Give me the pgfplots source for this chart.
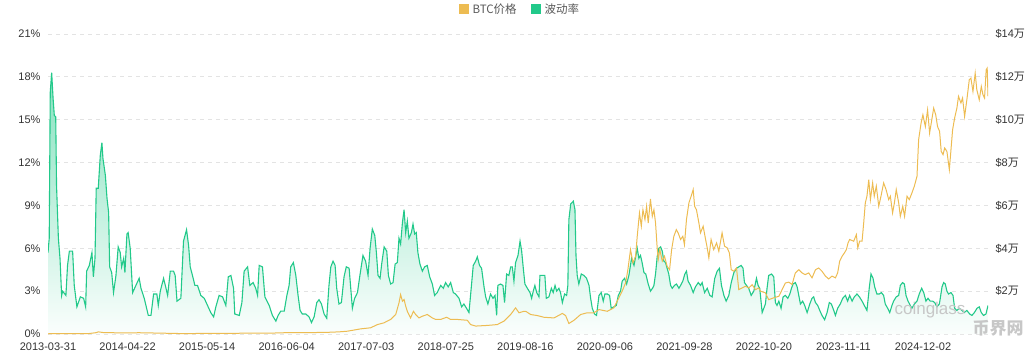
\documentclass[border=0pt]{standalone}
\usepackage{pgfplots}
\pgfplotsset{compat=1.18}
\usepackage{pgfplotstable}
\usepackage{fontspec}
\setmainfont{Liberation Sans}
\newfontfamily\cjk{Noto Sans CJK SC}
\definecolor{volgreen}{HTML}{22C98A}
\definecolor{btcgold}{HTML}{EDBC52}
\definecolor{gridgray}{HTML}{E3E3E3}
\definecolor{ticktext}{HTML}{333333}

\pgfplotstableread{
day vol
0 5.7
6 6.7
11 16.9
18 18.3
25 16.5
31 15.3
38 15.2
42 10.4
51 6.7
59 5.3
67 2.7
72 3.0
88 2.7
96 4.8
105 5.8
121 5.8
129 3.4
142 1.9
159 2.6
175 2.5
185 1.9
190 4.4
203 4.8
216 5.7
223 4.0
231 5.3
237 10.2
247 10.2
257 12.5
265 13.4
270 12.3
282 11.1
290 9.5
298 8.5
303 4.7
313 4.3
322 2.9
334 4.1
345 6.1
355 5.7
362 4.7
372 5.3
378 4.3
388 7.0
394 7.1
404 6.0
416 2.9
432 3.4
448 3.9
457 3.2
473 2.5
493 1.3
506 1.3
519 2.8
535 2.8
542 2.0
552 3.0
568 3.9
580 3.2
588 2.7
601 4.4
617 4.4
625 4.1
634 2.3
653 2.5
666 6.5
681 7.3
691 6.2
699 4.7
710 4.1
722 3.4
735 3.4
751 2.7
768 2.5
784 2.0
800 1.5
814 1.2
825 1.9
841 2.7
858 2.6
874 2.0
886 4.0
899 4.1
912 3.2
918 1.4
940 1.3
953 2.2
964 4.4
981 4.7
992 3.4
1008 3.6
1021 3.2
1030 2.7
1038 4.8
1054 4.7
1066 2.6
1087 2.0
1103 1.3
1120 0.9
1131 1.3
1144 1.6
1161 1.6
1174 2.7
1185 3.4
1193 4.7
1206 5.0
1218 4.1
1229 2.7
1239 1.65
1250 1.4
1267 1.4
1283 1.2
1295 0.8
1308 1.2
1321 2.2
1332 2.4
1344 2.1
1357 1.4
1370 1.1
1381 3.4
1390 4.7
1401 5.1
1411 4.8
1419 3.2
1430 2.1
1442 2.2
1455 4.0
1466 4.7
1480 4.6
1488 3.2
1496 1.8
1507 2.5
1521 2.9
1534 4.2
1548 5.5
1561 5.1
1573 4.1
1583 6.0
1594 7.35
1606 6.9
1614 5.7
1622 4.1
1632 3.9
1640 4.9
1652 6.1
1665 5.8
1673 4.1
1684 3.5
1696 3.6
1706 4.9
1717 5.0
1725 6.7
1733 6.3
1742 7.8
1750 8.7
1758 7.1
1766 7.9
1774 6.7
1786 7.1
1794 7.7
1802 7.0
1810 7.1
1818 5.7
1828 4.9
1840 4.4
1851 4.7
1864 4.8
1876 4.0
1889 3.5
1900 2.7
1913 2.9
1930 3.4
1943 3.2
1954 3.6
1967 3.3
1979 3.6
1992 2.9
2003 2.8
2020 2.5
2033 1.9
2044 2.1
2057 1.8
2069 1.5
2080 3.2
2090 4.8
2102 5.1
2110 5.4
2121 4.8
2131 4.6
2143 3.3
2151 2.6
2162 2.1
2175 2.8
2187 2.5
2197 2.7
2205 1.3
2211 3.4
2224 3.5
2236 3.4
2244 2.2
2254 4.2
2265 4.1
2274 4.7
2282 4.7
2290 3.7
2298 5.0
2310 5.5
2320 6.5
2328 5.8
2336 4.6
2344 3.5
2356 3.2
2369 2.9
2377 2.5
2385 3.0
2393 3.4
2402 2.9
2413 2.6
2418 4.1
2429 4.1
2442 4.1
2449 2.5
2462 2.6
2474 3.2
2483 2.9
2492 3.4
2500 3.0
2511 3.2
2519 2.9
2528 2.2
2539 2.8
2549 2.7
2555 3.4
2560 8.0
2569 9.1
2582 9.3
2590 8.7
2595 5.5
2601 4.1
2609 3.5
2621 4.2
2634 4.1
2647 3.9
2659 3.4
2667 2.5
2675 1.8
2686 1.4
2696 1.3
2708 2.7
2719 2.9
2729 2.3
2737 2.8
2749 2.8
2760 2.7
2768 1.8
2781 1.9
2793 2.0
2803 2.7
2814 3.0
2822 3.7
2834 3.9
2844 3.5
2855 4.1
2868 5.3
2880 4.8
2888 5.4
2896 6.0
2904 5.3
2912 5.5
2920 5.0
2929 4.3
2938 4.2
2950 3.5
2961 3.0
2971 3.2
2978 3.4
2986 4.2
2994 5.4
3002 6.0
3011 6.1
3019 5.8
3027 5.1
3035 5.0
3043 4.6
3051 4.2
3060 3.4
3068 3.2
3079 3.4
3089 3.5
3101 3.2
3109 3.4
3120 3.7
3130 4.2
3138 4.4
3146 3.7
3158 3.4
3171 2.9
3182 3.3
3196 3.6
3207 3.4
3215 3.6
3227 2.9
3240 3.2
3253 2.7
3264 2.6
3277 3.9
3289 4.4
3300 4.6
3310 3.4
3322 2.7
3333 2.3
3346 2.7
3358 3.6
3371 4.3
3384 4.6
3395 4.7
3407 4.8
3416 4.6
3423 3.6
3433 3.4
3444 3.2
3456 2.7
3469 3.0
3482 3.9
3490 3.4
3498 3.2
3510 1.5
3518 1.8
3526 2.1
3534 3.2
3542 4.1
3556 4.2
3567 4.0
3575 2.2
3583 2.0
3592 2.3
3603 1.8
3613 2.6
3624 2.7
3636 2.5
3646 2.8
3654 3.2
3662 3.5
3673 3.6
3682 3.3
3690 2.7
3698 2.1
3709 2.3
3719 2.0
3731 1.5
3744 2.1
3755 2.5
3763 2.6
3772 2.2
3783 2.0
3793 1.65
3804 1.3
3817 1.0
3829 1.5
3840 2.2
3850 2.1
3862 1.65
3870 1.3
3881 1.8
3894 2.1
3906 2.5
3919 2.7
3930 2.3
3940 2.7
3952 2.3
3963 2.6
3976 2.8
3988 2.6
4001 2.3
4012 2.0
4025 1.65
4037 3.3
4045 4.2
4055 3.9
4063 3.3
4074 2.8
4086 2.8
4096 2.9
4107 2.7
4115 2.1
4127 1.8
4137 1.5
4148 2.0
4156 2.3
4169 2.6
4181 2.7
4189 3.4
4200 3.6
4209 3.5
4217 2.7
4227 2.3
4238 2.0
4246 1.8
4258 2.1
4271 2.3
4282 2.8
4294 3.2
4304 2.9
4315 2.3
4325 2.5
4336 2.3
4348 2.3
4358 2.2
4369 1.9
4381 2.1
4394 3.3
4402 3.6
4410 3.5
4418 3.0
4426 2.8
4438 2.9
4448 2.7
4456 1.8
4467 1.65
4479 1.8
4492 1.65
4503 1.5
4516 1.65
4530 1.4
4541 1.3
4553 1.5
4566 1.8
4577 1.9
4587 1.5
4598 1.3
4610 1.4
4620 2.0
}\voldata

\pgfplotstableread{
day price
0 0.01
15 0.02
100 0.012
200 0.02
235 0.06
248 0.1
270 0.07
310 0.06
405 0.05
445 0.06
555 0.04
655 0.02
760 0.025
910 0.03
970 0.04
1010 0.04
1110 0.045
1200 0.07
1260 0.06
1380 0.08
1430 0.1
1471 0.13
1537 0.24
1586 0.29
1619 0.44
1651 0.52
1684 0.68
1709 0.91
1725 1.45
1733 1.84
1742 1.53
1750 1.61
1758 1.3
1766 1.06
1782 0.75
1796 1.06
1807 0.91
1823 0.75
1840 0.83
1864 0.91
1889 0.75
1905 0.68
1930 0.68
1959 0.78
1979 0.68
2012 0.68
2061 0.64
2077 0.44
2102 0.37
2159 0.40
2208 0.44
2241 0.6
2274 0.91
2298 1.22
2315 0.99
2339 1.06
2348 1.06
2372 0.91
2405 0.86
2438 0.78
2487 0.75
2528 0.96
2544 0.86
2560 0.49
2585 0.64
2618 0.91
2650 0.99
2683 0.99
2708 1.14
2749 1.06
2781 1.22
2806 1.69
2822 2.0
2839 2.39
2850 3.0
2863 3.94
2875 3.32
2888 3.63
2896 4.56
2907 5.65
2916 5.03
2924 5.8
2934 5.34
2942 5.96
2950 5.18
2961 6.3
2970 5.49
2978 5.8
2986 5.18
2994 4.02
2999 3.47
3007 3.94
3019 3.4
3030 3.63
3043 3.16
3055 3.0
3065 3.94
3076 4.56
3088 4.87
3097 4.72
3109 4.41
3120 4.56
3128 4.17
3138 5.34
3150 6.12
3161 6.43
3171 6.74
3178 5.96
3187 5.8
3199 5.18
3207 4.72
3220 5.03
3232 4.41
3240 4.02
3248 3.55
3259 4.41
3272 3.94
3286 4.25
3297 3.86
3313 4.72
3325 4.1
3338 4.02
3349 3.78
3358 3.0
3371 2.93
3384 3.08
3395 2.07
3412 2.15
3428 2.23
3444 2.15
3461 2.3
3477 2.07
3493 2.15
3502 2.0
3526 1.92
3542 1.6
3567 1.69
3592 1.76
3608 2.07
3624 2.38
3641 2.42
3657 2.31
3673 2.85
3690 3.0
3706 2.85
3722 2.77
3739 2.85
3755 2.62
3772 3.0
3788 3.08
3804 2.93
3821 2.7
3837 2.57
3853 2.7
3870 2.62
3881 2.85
3891 3.4
3903 3.63
3914 3.78
3924 3.94
3932 4.25
3940 4.41
3960 4.33
3973 4.64
3980 4.02
3989 4.33
4001 4.33
4009 5.18
4017 6.12
4025 6.43
4034 7.2
4042 6.27
4053 7.05
4061 6.43
4071 6.9
4083 5.96
4094 6.43
4107 7.05
4119 6.74
4132 6.27
4140 6.43
4151 5.65
4160 6.12
4169 6.74
4181 6.12
4189 5.49
4201 5.96
4210 5.49
4222 6.43
4233 6.27
4246 6.58
4258 6.9
4271 7.36
4279 9.07
4291 9.84
4300 10.23
4312 9.68
4323 10.46
4333 9.38
4341 9.84
4353 10.54
4363 10.23
4372 9.68
4382 9.46
4390 8.52
4399 8.37
4407 8.68
4418 8.52
4430 7.67
4438 8.6
4446 9.53
4456 10.08
4467 10.54
4475 11.09
4487 10.78
4495 11.01
4505 10.15
4516 10.93
4528 11.87
4536 11.94
4546 11.32
4557 12.17
4565 11.4
4577 10.93
4587 11.55
4595 11.17
4603 11.01
4611 12.33
4616 12.41
4620 11.09
}\pricedata

\begin{document}
\begin{tikzpicture}
\useasboundingbox (0,0) rectangle (1034pt,354pt);
\begin{axis}[
  at={(48pt,20pt)}, anchor=south west,
  scale only axis, width=940pt, height=300pt,
  xmin=0, xmax=4620, ymin=0, ymax=21,
  axis x line*=bottom, axis y line*=left,
  axis line style={draw=none},
  major tick length=0pt,
  ytick={0,3,6,9,12,15,18,21},
  yticklabel={\pgfmathprintnumber{\tick}\%},
  yticklabel style={xshift=-4pt},
  ymajorgrids, grid style={gridgray, dash pattern=on 4pt off 4pt, line width=0.8pt},
  xtick={0,391,782,1173,1564,1955,2346,2737,3128,3519,3910,4301},
  xticklabels={2013-03-31,2014-04-22,2015-05-14,2016-06-04,2017-07-03,2018-07-25,2019-08-16,2020-09-06,2021-09-28,2022-10-20,2023-11-11,2024-12-02},
  xticklabel style={yshift=-5pt},
  tick label style={font=\fontsize{11}{13}\selectfont, text=ticktext},
  /pgf/number format/assume math mode=true,
]
\addplot[draw=none, top color=volgreen!55!white, bottom color=volgreen!2!white] table[x=day, y=vol] {\voldata} \closedcycle;
\addplot[volgreen, line width=1.1pt] table[x=day, y=vol] {\voldata};
\end{axis}
\begin{axis}[
  at={(48pt,20pt)}, anchor=south west,
  scale only axis, width=940pt, height=300pt,
  xmin=0, xmax=4620, ymin=0, ymax=14,
  axis y line*=right, hide x axis,
  axis line style={draw=none},
  major tick length=0pt,
  ytick={2,4,6,8,10,12,14},
  yticklabel={\$\pgfmathprintnumber{\tick}{\cjk 万}},
  yticklabel style={xshift=4pt, anchor=west},
  tick label style={font=\fontsize{11}{13}\selectfont, text=ticktext},
  /pgf/number format/assume math mode=true,
  legend columns=2,
  legend image code/.code={\fill[#1] (0pt,-5pt) rectangle (10pt,5pt);},
  legend style={at={(0.502,1)}, anchor=center, yshift=25pt, draw=none, fill=none,
    font=\cjk\fontsize{11.5}{13}\selectfont, text=black!65,
    /tikz/every odd column/.append style={column sep=2pt},
    /tikz/every even column/.append style={column sep=12pt}},
]
\addlegendimage{fill=btcgold, draw=none}
\addlegendentry{BTC价格}
\addlegendimage{fill=volgreen, draw=none}
\addlegendentry{波动率}
\addplot[btcgold, line width=1pt, forget plot] table[x=day, y=price] {\pricedata};
\end{axis}
\node[text=black!22, font=\fontsize{17}{17}\selectfont] at (930pt,44pt) {coinglass};
\node[text=black!22, font=\cjk\bfseries\fontsize{17}{17}\selectfont] at (998pt,26pt) {币界网};
\end{tikzpicture}
\end{document}
